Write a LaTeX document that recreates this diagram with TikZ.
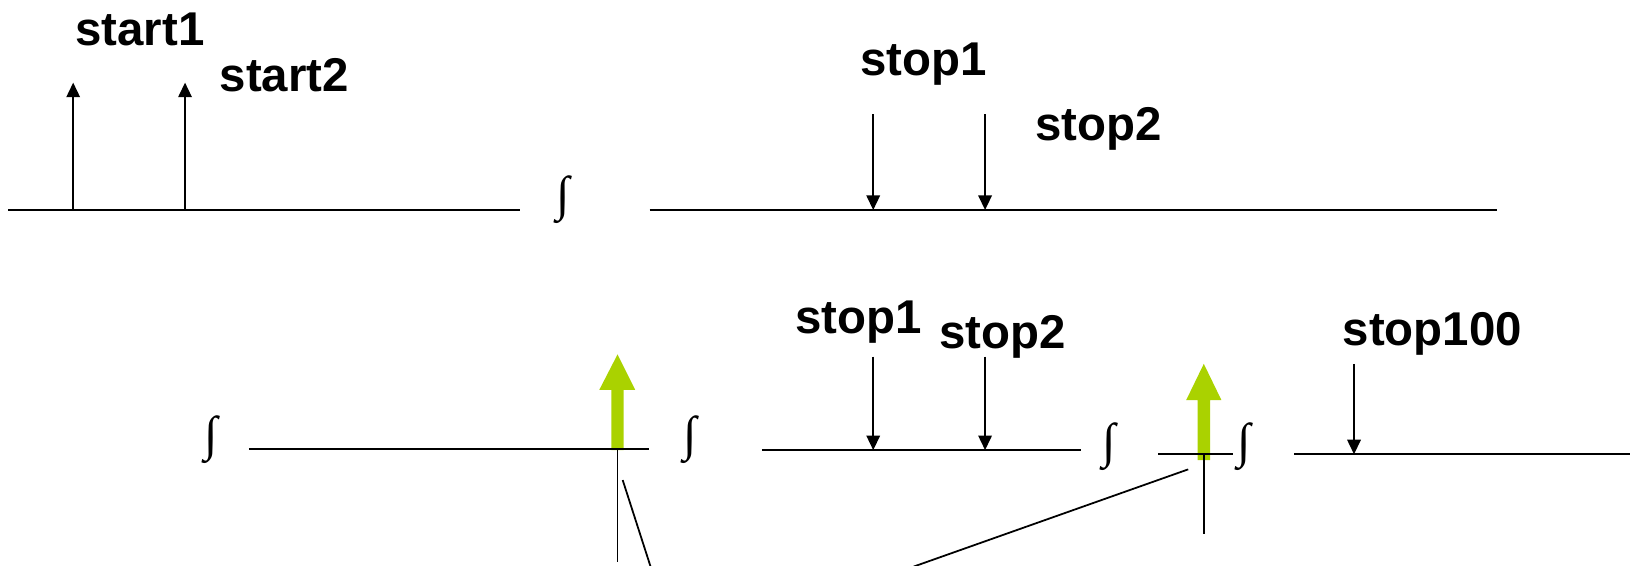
\documentclass[tikz,border=0pt]{standalone}
\usepackage{fontspec}
\setmainfont{Liberation Sans}
\newfontfamily\serifint{Liberation Serif}
\usetikzlibrary{arrows.meta}
\definecolor{greenarrow}{RGB}{170,210,0}
\begin{document}
\begin{tikzpicture}[x=1pt,y=-1pt,
  axis/.style={line width=1.9pt},
  tick/.style={line width=1.6pt,-{Triangle[length=14pt,width=13pt]}},
  lbl/.style={font=\fontsize{45.6}{54}\selectfont\bfseries, inner sep=0pt, anchor=base west},
  integ/.style={inner sep=0pt, font=\serifint},
  garrow/.style={fill=greenarrow, draw=none},
  thinline/.style={line width=1.7pt}]
\useasboundingbox (0,0) rectangle (1568,544);
\newcommand{\integsign}{\resizebox*{!}{46pt}{\serifint\bfseries ∫}}

% ---------- top row ----------
\coordinate (t1a) at (8,202);
\coordinate (t1b) at (500,202);
\draw[axis] (t1a) -- (t1b);

\coordinate (s1b) at (70.4,202);  \coordinate (s1t) at (70.4,79.5);
\coordinate (s2b) at (178,202);   \coordinate (s2t) at (178,79.5);
\draw[tick] (s1b) -- (s1t);
\draw[tick] (s2b) -- (s2t);
\node[lbl] (start1) at (72.3,43.3) {start1};
\node[lbl] (start2) at (211.1,88) {start2};

\node[integ] (i0) at (541.8,191.6) {\integsign};

\coordinate (t2a) at (625,202);
\coordinate (t2b) at (1440,202);
\draw[axis] (t2a) -- (t2b);

\coordinate (p1t) at (840,109.7);   \coordinate (p1b) at (840,202);
\coordinate (p2t) at (947.6,109.7); \coordinate (p2b) at (947.6,202);
\draw[tick] (p1t) -- (p1b);
\draw[tick] (p2t) -- (p2b);
\node[lbl] (stopA) at (827.4,73) {stop1};
\node[lbl] (stopB) at (996,134.7) {stop2};

% ---------- bottom row ----------
\node[integ] (i1) at (203,423) {\integsign};

% green arrow 1
\path[garrow] (588,433) -- (588,375) -- (576.5,375) -- (594,341) -- (611,375) -- (600,375) -- (600,433) -- cycle;

\coordinate (b1a) at (239.5,432.3);
\coordinate (b1b) at (624.7,432.3);
\draw[axis] (b1a) -- (b1b);

\coordinate (v1t) at (594,432.3);
\coordinate (v1b) at (594,541);
\draw[thinline] (v1t) -- (v1b);
\coordinate (d1a) at (599,461.8);
\coordinate (d1b) at (625.8,545);
\draw[thinline] (d1a) -- (d1b);

\node[integ] (i2) at (664,423) {\integsign};

\coordinate (b2a) at (733,433);
\coordinate (b2b) at (1040,433);
\draw[axis] (b2a) -- (b2b);

\coordinate (q1t) at (840,343);   \coordinate (q1b) at (840,433);
\coordinate (q2t) at (947.6,343); \coordinate (q2b) at (947.6,433);
\draw[tick] (q1t) -- (q1b);
\draw[tick] (q2t) -- (q2b);
\node[lbl] (stopC) at (765.1,320.7) {stop1};
\node[lbl] (stopD) at (903.4,335) {stop2};

\node[integ] (i3) at (1066.5,429.7) {\integsign};

% green arrow 2
\path[garrow] (1152,442.5) -- (1152,385) -- (1141,385) -- (1158,350) -- (1175,385) -- (1164,385) -- (1164,442.5) -- cycle;

\coordinate (b3a) at (1114,437);
\coordinate (b3b) at (1186.5,437);
\draw[axis] (b3a) -- (b3b);

\coordinate (v2t) at (1158,437);
\coordinate (v2b) at (1158,513.7);
\draw[thinline] (v2t) -- (v2b);
\coordinate (d2a) at (1143,451.5);
\coordinate (d2b) at (879,545);
\draw[thinline] (d2a) -- (d2b);

\node[integ] (i4) at (1196.7,430) {\integsign};

\coordinate (b4a) at (1245,437);
\coordinate (b4b) at (1570,437);
\draw[axis] (b4a) -- (b4b);

\coordinate (r1t) at (1302.5,350); \coordinate (r1b) at (1302.5,437);
\draw[tick] (r1t) -- (r1b);
\node[lbl] (stopE) at (1291.4,332) {stop100};
\end{tikzpicture}
\end{document}
